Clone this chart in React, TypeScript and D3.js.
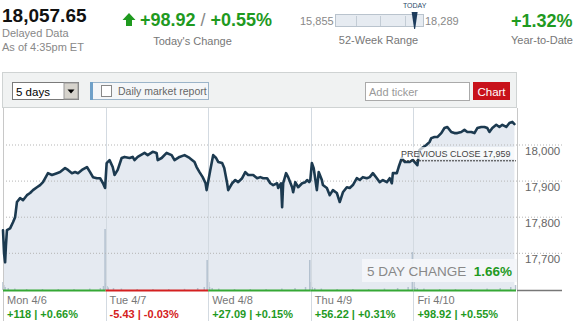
import React from "react";
import * as d3 from "d3";

// ---------- DATA ----------
const dayLabels = ["Mon 4/6", "Tue 4/7", "Wed 4/8", "Thu 4/9", "Fri 4/10"];
const dayChanges = ["+118 | +0.66%", "-5.43 | -0.03%", "+27.09 | +0.15%", "+56.22 | +0.31%", "+98.92 | +0.55%"];
const dayUp = [true, false, true, true, true];

// [minutes since open, index level]
const monPrices: [number, number][] = [
  [0, 17764], [4, 17700], [8, 17675], [11, 17720], [15, 17764], [27, 17769], [38, 17786], [46, 17800],
  [53, 17842], [65, 17853], [76, 17847], [91, 17861], [103, 17867], [114, 17875], [129, 17883],
  [141, 17889], [152, 17897], [171, 17922], [186, 17917], [205, 17922], [217, 17925], [236, 17936],
  [247, 17931], [262, 17922], [274, 17925], [285, 17922], [300, 17931], [319, 17939], [331, 17925],
  [342, 17911], [357, 17908], [369, 17908], [380, 17894], [388, 17881],
];
const tuePrices: [number, number][] = [
  [4, 17950], [15, 17958], [27, 17939], [34, 17917], [46, 17931], [61, 17964], [72, 17967], [91, 17964],
  [103, 17967], [110, 17958], [122, 17967], [148, 17978], [160, 17972], [179, 17981], [194, 17978],
  [198, 17958], [213, 17964], [232, 17978], [251, 17972], [262, 17958], [281, 17967], [300, 17972],
  [319, 17964], [338, 17953], [346, 17939], [357, 17925], [369, 17911], [380, 17894], [384, 17875],
];
const wedPrices: [number, number][] = [
  [8, 17931], [19, 17972], [30, 17964], [38, 17953], [53, 17950], [61, 17936], [72, 17894], [76, 17875],
  [91, 17894], [103, 17903], [114, 17897], [129, 17908], [141, 17925], [152, 17917], [171, 17917],
  [186, 17908], [198, 17911], [209, 17908], [224, 17908], [236, 17894], [247, 17889], [262, 17894],
  [266, 17881], [277, 17894], [281, 17828], [285, 17894], [296, 17922], [304, 17911], [319, 17883],
  [323, 17869], [331, 17897], [342, 17883], [357, 17894], [369, 17897], [376, 17903], [384, 17897], [388, 17902],
];
const thuPrices: [number, number][] = [
  [4, 17950], [11, 17936], [23, 17875], [30, 17925], [42, 17903], [46, 17889], [61, 17881], [72, 17861],
  [84, 17875], [99, 17867], [110, 17842], [122, 17869], [137, 17883], [148, 17881], [160, 17889],
  [175, 17908], [186, 17903], [198, 17911], [213, 17908], [224, 17911], [236, 17922], [251, 17908],
  [262, 17897], [274, 17903], [289, 17897], [300, 17908], [308, 17894], [312, 17922], [319, 17922],
  [327, 17922], [334, 17939], [346, 17964], [357, 17953], [376, 17953], [388, 17959],
];
const friPrices: [number, number][] = [
  [4, 17953], [15, 17944], [23, 17986], [34, 17992], [49, 18000], [61, 18008], [68, 18019], [80, 18022],
  [91, 18022], [106, 18033], [118, 18047], [129, 18050], [144, 18036], [156, 18033], [167, 18033],
  [182, 18036], [194, 18042], [205, 18036], [220, 18036], [232, 18033], [243, 18047], [258, 18050],
  [270, 18050], [281, 18047], [289, 18036], [300, 18047], [315, 18056], [327, 18050], [338, 18056],
  [353, 18050], [365, 18061], [376, 18064], [384, 18058],
];
const dayPrices = [monPrices, tuePrices, wedPrices, thuPrices, friPrices];

// [minutes since open, volume (relative)]
const monVolume: [number, number][] = [[0, 8], [3, 5], [8, 3], [20, 2], [45, 1.5], [90, 1], [150, 1], [210, 1], [270, 1], [330, 1.5], [370, 2], [382, 4], [388, 61]];
const tueVolume: [number, number][] = [[2, 7], [5, 4], [10, 2.5], [30, 2], [60, 1.5], [120, 1], [180, 1], [240, 1], [300, 1.2], [350, 2], [375, 3], [386, 30]];
const wedVolume: [number, number][] = [[2, 8], [5, 3], [15, 2], [40, 1.5], [100, 1], [160, 1], [220, 1], [280, 1.5], [330, 2], [370, 3], [386, 30]];
const thuVolume: [number, number][] = [[2, 8], [5, 3], [15, 2], [40, 1.5], [100, 1], [160, 1], [220, 1], [280, 1.5], [330, 2], [370, 3], [386, 38]];
const friVolume: [number, number][] = [[2, 8], [5, 3], [15, 2], [40, 1.5], [100, 1], [160, 1], [220, 1], [280, 1.5], [330, 2], [370, 3], [388, 5]];
const dayVolumes = [monVolume, tueVolume, wedVolume, thuVolume, friVolume];

const yTicks = [17700, 17800, 17900, 18000];
const previousClose = 17959;
const lastPrice = "18,057.65";
const todayChange = "+98.92";
const todayPct = "+0.55%";
const weekLow = "15,855";
const weekHigh = "18,289";
const weekLowVal = 15855;
const weekHighVal = 18289;
const lastVal = 18057.65;
const ytd = "+1.32%";
const fiveDayChange = "1.66%";

// ---------- STYLE ----------
const FONT = "'Liberation Sans', Arial, Helvetica, sans-serif";
const GREEN = "#1f9a1f";
const RED = "#d42020";
const MINUTES = 390;

export default function App() {
  const plotLeft = 3, plotRight = 516, plotTop = 108, plotBottom = 290;
  const x = d3.scaleLinear().domain([0, MINUTES * 5]).range([plotLeft, plotRight]);
  const y = d3.scaleLinear().domain([17700, 18000]).range([253.3, 145]);
  const vol = d3.scaleLinear().domain([0, 61]).range([0, 61]);

  const points = dayPrices.flatMap((arr, i) => arr.map(([m, v]) => ({ t: i * MINUTES + m, v })));
  const line = d3.line<{ t: number; v: number }>().x((d) => x(d.t)).y((d) => y(d.v));
  const area = d3.area<{ t: number; v: number }>().x((d) => x(d.t)).y0(plotBottom).y1((d) => y(d.v));
  const vols = dayVolumes.flatMap((arr, i) => arr.map(([m, v]) => ({ t: i * MINUTES + m, v })));

  const wk = d3.scaleLinear().domain([weekLowVal, weekHighVal]).range([335, 423]);
  const todayX = wk(lastVal);

  return (
    <div style={{ position: "absolute", left: 0, top: 0 }}>
      <svg width={575} height={321} style={{ display: "block", fontFamily: FONT }}>
        <rect x={0} y={0} width={575} height={321} fill="#fff" />
        {/* Header */}
        <text x={2} y={22} fontSize={19} fontWeight="bold" fill="#111">{lastPrice}</text>
        <text x={2} y={37} fontSize={11} fill="#888">Delayed Data</text>
        <text x={2} y={51} fontSize={11} fill="#888">As of 4:35pm ET</text>

        <path d="M129,13 L135.5,20 L132,20 L132,26 L126,26 L126,20 L122.5,20 Z" fill={GREEN} />
        <text x={140} y={26} fontSize={18}>
          <tspan fontWeight="bold" fill={GREEN}>{todayChange}</tspan>
          <tspan fill="#888"> / </tspan>
          <tspan fontWeight="bold" fill={GREEN}>{todayPct}</tspan>
        </text>
        <text x={192.5} y={45} fontSize={11} fill="#777" textAnchor="middle">Today's Change</text>

        <text x={300} y={25} fontSize={11} fill="#888">{weekLow}</text>
        <rect x={335.5} y={14.5} width={88} height={12} fill="#e6ebf1" stroke="#b9c3cd" />
        {[356, 380, 405].map((tx) => (
          <line key={tx} x1={tx + 0.5} x2={tx + 0.5} y1={16} y2={26} stroke="#c3ccd5" />
        ))}
        <path d={`M${todayX - 3},12 L${todayX + 3},12 L${todayX + 0.5},29 L${todayX - 0.5},29 Z`} fill="#1d3c5c" />
        <text x={todayX} y={8} fontSize={7} fill="#2a4a6a" textAnchor="middle">TODAY</text>
        <text x={425} y={25} fontSize={11} fill="#888">{weekHigh}</text>
        <text x={378.5} y={44} fontSize={11} fill="#777" textAnchor="middle">52-Week Range</text>

        <text x={511} y={27} fontSize={18} fontWeight="bold" fill={GREEN}>{ytd}</text>
        <text x={511} y={44} fontSize={11} fill="#777">Year-to-Date</text>

        {/* Toolbar */}
        <rect x={2.5} y={72.5} width={514} height={35} fill="#f0f2f2" stroke="#cfd3d3" />
        <rect x={12.5} y={82.5} width={66} height={17} fill="#fff" stroke="#7a7a7a" />
        <text x={16} y={95.5} fontSize={11.5} fill="#000">5 days</text>
        <rect x={64} y={83} width={14} height={16} fill="#d6d3cc" stroke="#999" />
        <path d="M67.5,89.5 L74.5,89.5 L71,93.5 Z" fill="#000" />
        <rect x={90.5} y={82.5} width={118} height={17} fill="#f4f6f8" stroke="#9bb4c9" />
        <rect x={90} y={82} width={3} height={18} fill="#6fa0c8" />
        <rect x={101.5} y={85.5} width={10} height={11} fill="#fff" stroke="#888" />
        <text x={118} y={95} fontSize={10.5} fill="#666">Daily market report</text>
        <rect x={365.5} y={82.5} width={104} height={18} fill="#fff" stroke="#aaa" />
        <text x={369} y={96} fontSize={11} fill="#999">Add ticker</text>
        <rect x={473} y={82} width={37} height={18} fill="#c8121b" />
        <text x={491.5} y={95.5} fontSize={11.5} fill="#fff" textAnchor="middle">Chart</text>

        {/* Plot */}
        <path d={area(points) || ""} fill="#e5eaf1" />
        {vols.map((d, i) => (
          <rect key={i} x={x(d.t) - 0.75} y={plotBottom - vol(d.v)} width={1.5} height={vol(d.v)} fill="#b3c1cf" />
        ))}
        {yTicks.map((t) => (
          <g key={t}>
            <line x1={plotLeft} x2={562} y1={y(t)} y2={y(t)} stroke="#b5b5b5" strokeDasharray="1,2" />
            <text x={525} y={y(t) + 10} fontSize={11.5} fill="#666">{d3.format(",")(t)}</text>
          </g>
        ))}
        {[1, 2, 3, 4].map((i) => (
          <line key={i} x1={Math.round(x(i * MINUTES)) + 0.5} x2={Math.round(x(i * MINUTES)) + 0.5} y1={plotTop} y2={321} stroke="#d3dae1" />
        ))}
        <line x1={plotLeft + 0.5} x2={plotLeft + 0.5} y1={plotTop} y2={321} stroke="#c8c8c8" />
        <line x1={517.5} x2={517.5} y1={plotTop} y2={321} stroke="#c8c8c8" />

        <path d={line(points) || ""} fill="none" stroke="#1c3a50" strokeWidth={2.6} strokeLinejoin="round" strokeLinecap="round" />

        {/* Previous close */}
        <rect x={399} y={147} width={118} height={12} fill="#fff" fillOpacity={0.7} />
        <line x1={401} x2={516} y1={y(previousClose) + 1} y2={y(previousClose) + 1} stroke="#333" strokeDasharray="2,1" />
        <text x={401} y={157} fontSize={9} fill="#444">PREVIOUS CLOSE {d3.format(",")(previousClose)}</text>

        {/* 5 day change */}
        <rect x={362} y={259} width={155} height={23} fill="#f4f6f9" fillOpacity={0.9} />
        <text x={367} y={276} fontSize={13.5} fill="#888">5 DAY CHANGE</text>
        <text x={512} y={276} fontSize={13.5} fontWeight="bold" fill={GREEN} textAnchor="end">{fiveDayChange}</text>

        {/* Bottom day bars & labels */}
        <line x1={517} x2={562} y1={290.5} y2={290.5} stroke="#777" strokeWidth={1.5} />
        {dayLabels.map((lab, i) => {
          const x0 = x(i * MINUTES);
          const x1 = x((i + 1) * MINUTES);
          const c = dayUp[i] ? "#35a835" : RED;
          return (
            <g key={lab}>
              <line x1={x0} x2={x1} y1={290.5} y2={290.5} stroke={c} strokeWidth={2} />
              <text x={x0 + 4} y={304} fontSize={11} fill="#777">{lab}</text>
              <text x={x0 + 4} y={318} fontSize={11} fontWeight="bold" fill={dayUp[i] ? GREEN : RED}>{dayChanges[i]}</text>
            </g>
          );
        })}
      </svg>
    </div>
  );
}
